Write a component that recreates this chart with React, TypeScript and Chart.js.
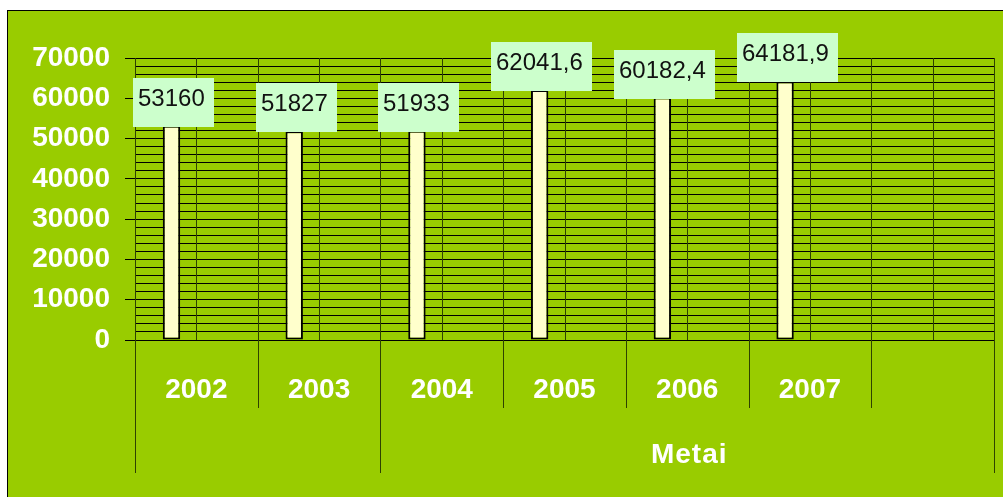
import React, { useEffect, useRef } from 'react';
import { Chart, registerables } from 'chart.js';

Chart.register(...registerables);

const categories = ['2002', '2003', '2004', '2005', '2006', '2007', ''];
const values: (number | null)[] = [53160, 51827, 51933, 62041.6, 60182.4, 64181.9, null];
const emptySeries: (number | null)[] = [null, null, null, null, null, null, null];
const groupLabels = ['', 'Metai'];
const groupStarts = [0, 2];
const groupEnds = [1, 6];
const yMin = 0;
const yMax = 70000;
const yMinorStep = 2000;
const yMajorStep = 10000;

const GREEN = '#99CC00';
const FONT = "'Liberation Sans', Arial, sans-serif";
const VLINE = '#2e4200';

const fmt = (v: number) => String(v).replace('.', ',');

const decor = {
  id: 'decor',
  beforeDraw(chart: any) {
    const ctx = chart.ctx;
    const W = chart.width;
    const H = chart.height;
    ctx.save();
    ctx.fillStyle = GREEN;
    ctx.fillRect(7, 10, W - 7, H - 10);
    ctx.strokeStyle = '#000';
    ctx.lineWidth = 1;
    ctx.beginPath();
    ctx.moveTo(7, 10.5);
    ctx.lineTo(W, 10.5);
    ctx.moveTo(7.5, 10);
    ctx.lineTo(7.5, H);
    ctx.stroke();
    ctx.restore();
  },
  beforeDatasetsDraw(chart: any) {
    const ctx = chart.ctx;
    const x = chart.scales.x;
    const a = chart.chartArea;
    ctx.save();
    ctx.strokeStyle = VLINE;
    ctx.lineWidth = 1;
    ctx.beginPath();
    for (let i = 0; i < categories.length; i++) {
      const cx = Math.round(x.getPixelForValue(i)) + 0.5;
      ctx.moveTo(cx, a.top);
      ctx.lineTo(cx, a.bottom);
    }
    for (let i = 0; i <= categories.length; i++) {
      const bx = Math.round(x.getPixelForValue(i - 0.5)) + 0.5;
      ctx.moveTo(bx, a.top);
      ctx.lineTo(bx, a.bottom + 68);
    }
    for (let g = 0; g < groupStarts.length; g++) {
      const b1 = Math.round(x.getPixelForValue(groupStarts[g] - 0.5)) + 0.5;
      const b2 = Math.round(x.getPixelForValue(groupEnds[g] + 0.5)) + 0.5;
      ctx.moveTo(b1, a.bottom);
      ctx.lineTo(b1, a.bottom + 133);
      ctx.moveTo(b2, a.bottom);
      ctx.lineTo(b2, a.bottom + 133);
    }
    ctx.stroke();
    ctx.restore();
  },
  afterDatasetsDraw(chart: any) {
    const ctx = chart.ctx;
    const meta = chart.getDatasetMeta(0);
    ctx.save();
    ctx.font = `24px ${FONT}`;
    meta.data.forEach((bar: any, i: number) => {
      const v = values[i];
      if (v === null || v === undefined) return;
      const txt = fmt(v);
      const tw = ctx.measureText(txt).width;
      const w = Math.round(tw + 14);
      const h = 49;
      const cx = bar.x + 2;
      const left = Math.round(cx - w / 2);
      const bottom = Math.round(bar.y) + 1;
      const top = bottom - h;
      ctx.fillStyle = '#CCFFCC';
      ctx.fillRect(left, top, w, h);
      ctx.fillStyle = '#111';
      ctx.textAlign = 'left';
      ctx.textBaseline = 'alphabetic';
      ctx.fillText(txt, left + 5, top + 28);
    });
    ctx.restore();
  },
  afterDraw(chart: any) {
    const ctx = chart.ctx;
    const x = chart.scales.x;
    const a = chart.chartArea;
    ctx.save();
    ctx.fillStyle = '#FFFFFF';
    ctx.font = `bold 28px ${FONT}`;
    ctx.textAlign = 'center';
    ctx.textBaseline = 'alphabetic';
    categories.forEach((c, i) => {
      if (!c) return;
      ctx.fillText(c, x.getPixelForValue(i), a.bottom + 58);
    });
    (ctx as any).letterSpacing = '1px';
    for (let g = 0; g < groupLabels.length; g++) {
      if (!groupLabels[g]) continue;
      const b1 = x.getPixelForValue(groupStarts[g] - 0.5);
      const b2 = x.getPixelForValue(groupEnds[g] + 0.5);
      ctx.fillText(groupLabels[g], (b1 + b2) / 2 + 2, a.bottom + 123);
    }
    ctx.restore();
  },
};

export default function App() {
  const ref = useRef<HTMLCanvasElement>(null);
  useEffect(() => {
    if (!ref.current) return;
    const chart = new Chart(ref.current, {
      type: 'bar',
      data: {
        labels: categories,
        datasets: [
          {
            data: values as any,
            backgroundColor: '#FFFFCC',
            borderColor: '#000',
            borderWidth: 2,
            borderSkipped: false,
            barPercentage: 0.35,
            categoryPercentage: 0.81,
          },
          {
            data: emptySeries as any,
            backgroundColor: '#FFFFCC',
            borderColor: '#000',
            borderWidth: 2,
            barPercentage: 0.35,
            categoryPercentage: 0.81,
          },
        ],
      },
      options: {
        animation: false,
        responsive: false,
        layout: { padding: { top: 58, right: 9, left: 0, bottom: 0 } },
        plugins: { legend: { display: false }, tooltip: { enabled: false } },
        scales: {
          x: {
            grid: { display: false },
            border: { display: false },
            ticks: { display: false },
            afterFit(scale: any) {
              scale.height = 157;
            },
          },
          y: {
            min: yMin,
            max: yMax,
            border: { display: true, color: VLINE },
            grid: {
              color: '#000',
              lineWidth: 1,
              tickLength: 10,
              tickColor: (c: any) => (c.tick && c.tick.value % yMajorStep === 0 ? '#000' : 'rgba(0,0,0,0)'),
            },
            ticks: {
              stepSize: yMinorStep,
              autoSkip: false,
              padding: 15,
              color: '#FFFFFF',
              font: { family: FONT, size: 28, weight: 'bold' },
              callback: (v: any) => (Number(v) % yMajorStep === 0 ? String(v) : ''),
            },
            afterFit(scale: any) {
              scale.width = 135;
            },
          },
        },
      },
      plugins: [decor],
    });
    return () => chart.destroy();
  }, []);
  return (
    <div style={{ position: 'absolute', left: 0, top: 0 }}>
      <canvas ref={ref} width={1003} height={497} style={{ display: 'block' }} />
    </div>
  );
}
